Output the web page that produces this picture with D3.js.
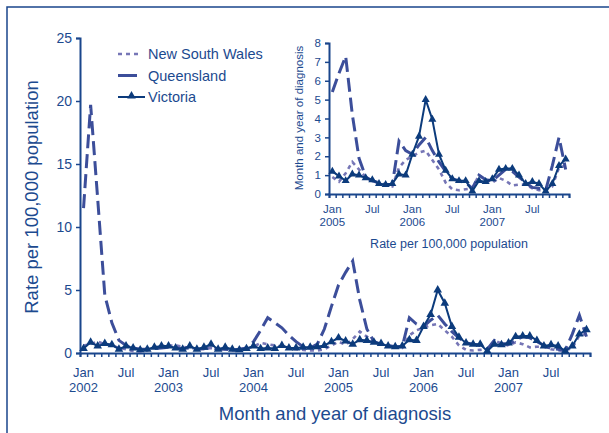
<!DOCTYPE html>
<meta charset="utf-8">
<script src="https://d3js.org/d3.v7.min.js"></script>
<style>
body { margin: 0; background: #fff; }
text { font-family: "Liberation Sans", Arial, sans-serif; fill: #1c4a8f; }
</style>
<div id="chart"></div>
<script>

// monthly notification rates, Jan 2002 - Dec 2007
var years = ["2002", "2003", "2004", "2005", "2006", "2007"];
var monthNames = ["Jan", "Feb", "Mar", "Apr", "May", "Jun", "Jul", "Aug", "Sep", "Oct", "Nov", "Dec"];
var seriesNames = ["New South Wales", "Queensland", "Victoria"];

var nsw = [
  0.6, 0.7, 0.9, 0.7, 0.6, 0.4, 0.3, 0.15, 0.1, 0.2, 0.5, 0.55,
  0.6, 0.6, 0.5, 0.4, 0.35, 0.3, 0.4, 0.3, 0.3, 0.2, 0.25, 0.35,
  0.5, 0.8, 0.7, 0.6, 0.5, 0.4, 0.3, 0.25, 0.2, 0.2, 0.3, 0.6,
  0.9, 0.65, 1.1, 1.7, 1.3, 0.9, 0.7, 0.55, 0.45, 0.4, 1.4, 1.8,
  2.0, 2.2, 2.3, 1.8, 1.3, 0.6, 0.25, 0.2, 0.25, 0.3, 1.0, 0.75,
  0.6, 0.85, 0.7, 0.45, 0.5, 0.5, 0.3, 0.2, 0.2, 0.4, 1.4, 1.5
];
var qld = [
  11.5, 19.7, 12.2, 4.6, 2.4, 1.0, 0.6, 0.4, 0.3, 0.3, 0.35, 0.4,
  0.45, 0.4, 0.35, 0.4, 0.3, 0.35, 0.4, 0.3, 0.3, 0.25, 0.3, 0.4,
  0.9, 1.8, 2.8, 2.4, 2.0, 1.4, 0.9, 0.5, 0.4, 0.7, 1.9, 3.7,
  5.4, 6.4, 7.3, 4.2, 1.9, 0.9, 0.7, 0.6, 0.5, 0.5, 2.8, 2.3,
  2.1, 2.6, 3.0, 2.3, 1.7, 1.2, 0.8, 0.7, 0.6, 0.3, 1.0, 0.75,
  0.7, 1.0, 1.3, 1.2, 0.9, 0.6, 0.35, 0.3, 0.2, 1.5, 3.0, 1.3
];
var vic = [
  0.35, 0.85, 0.55, 0.75, 0.65, 0.3, 0.55, 0.4, 0.25, 0.3, 0.45, 0.55,
  0.55, 0.4, 0.3, 0.55, 0.3, 0.45, 0.7, 0.3, 0.45, 0.3, 0.25, 0.35,
  0.55, 0.35, 0.4, 0.35, 0.6, 0.4, 0.4, 0.45, 0.45, 0.5, 0.6, 0.9,
  1.2, 0.95, 0.7, 1.05, 1.0, 0.85, 0.75, 0.55, 0.5, 0.55, 1.05, 1.0,
  2.1, 3.05, 5.0, 3.95, 2.1, 1.25, 0.8, 0.7, 0.7, 0.15, 0.7, 0.65,
  0.8, 1.3, 1.35, 1.35, 1.0, 0.55, 0.65, 0.55, 0.15, 0.55, 1.5, 1.85
];

var navy = "#0c3b7c", axisCol = "#1a468c";
var styles = [
  {color: "#7676b6", width: 2.6, dash: "4,4", marker: false},
  {color: "#3c4e9a", width: 3, dash: "14,6", marker: false},
  {color: navy, width: 2, dash: null, marker: true}
];
var allSeries = [nsw, qld, vic];

var svg = d3.select("#chart").append("svg")
  .attr("width", 609).attr("height", 433);

// frame
svg.append("rect")
  .attr("x", 7).attr("y", 7).attr("width", 640).attr("height", 460)
  .attr("fill", "none").attr("stroke", axisCol).attr("stroke-width", 1.5);

function drawPanel(g, opt) {
  var n = opt.series[0].length;
  var x = d3.scaleLinear().domain([0, n]).range([opt.x0, opt.x1]);
  var y = d3.scaleLinear().domain([0, opt.ymax]).range([opt.y0, opt.y1]);

  // y axis
  var ya = g.append("g").attr("transform", "translate(" + opt.x0 + ",0)")
    .call(d3.axisLeft(y).tickValues(opt.yticks).tickSize(4).tickPadding(4));
  ya.selectAll("text").style("font-size", opt.yfont + "px");

  // x axis, one tick per month boundary
  var xa = g.append("g").attr("transform", "translate(0," + opt.y0 + ")")
    .call(d3.axisBottom(x).tickValues(d3.range(n + 1)).tickSize(4).tickFormat(""));
  [ya, xa].forEach(function(a) {
    a.select(".domain").attr("stroke", axisCol).attr("stroke-width", 2);
    a.selectAll(".tick line").attr("stroke", axisCol).attr("stroke-width", 1.5);
  });

  // Jan / Jul labels
  for (var i = 0; i < n; i++) {
    var m = (opt.start + i) % 12;
    if (m != 0 && m != 6) continue;
    var t = g.append("text")
      .attr("x", x(i + 0.5)).attr("y", opt.y0 + opt.lab1)
      .attr("text-anchor", "middle").style("font-size", opt.xfont + "px");
    t.append("tspan").attr("x", x(i + 0.5)).text(monthNames[m]);
    if (m == 0) {
      t.append("tspan").attr("x", x(i + 0.5)).attr("dy", opt.lab2)
        .text(years[Math.floor((opt.start + i) / 12)]);
    }
  }

  var line = d3.line().x(function(d, i) { return x(i + 0.5); }).y(function(d) { return y(d); });

  opt.series.forEach(function(s, k) {
    var st = styles[k];
    g.append("path").datum(s)
      .attr("d", line).attr("fill", "none")
      .attr("stroke", st.color).attr("stroke-width", st.width)
      .attr("stroke-dasharray", st.dash);
    if (st.marker) {
      g.selectAll(null).data(s).enter().append("path")
        .attr("d", d3.symbol(d3.symbolTriangle).size(opt.msize))
        .attr("transform", function(d, i) { return "translate(" + x(i + 0.5) + "," + y(d) + ")"; })
        .attr("fill", st.color);
    }
  });

  // axis titles
  g.append("text")
    .attr("x", (opt.x0 + opt.x1) / 2).attr("y", opt.xtitleY)
    .attr("text-anchor", "middle").style("font-size", opt.tfont + "px")
    .text(opt.xtitle);
  g.append("text")
    .attr("transform", "translate(" + opt.ytitleX + "," + opt.ytitleC + ") rotate(-90)")
    .attr("text-anchor", "middle").style("font-size", opt.tfont2 + "px")
    .text(opt.ytitle);
}

// main chart
drawPanel(svg.append("g"), {
  series: allSeries, start: 0,
  x0: 80, x1: 590, y0: 353, y1: 38, ymax: 25, yticks: [0, 5, 10, 15, 20, 25],
  yfont: 14, xfont: 13, lab1: 24, lab2: 15, msize: 32,
  xtitle: "Month and year of diagnosis", xtitleY: 420, tfont: 18.5,
  ytitle: "Rate per 100,000 population", ytitleX: 38, ytitleC: 197, tfont2: 18.5
});

// inset, 2005 - 2007
drawPanel(svg.append("g"), {
  series: allSeries.map(function(s) { return s.slice(36); }), start: 36,
  x0: 329, x1: 569, y0: 194, y1: 43, ymax: 8, yticks: d3.range(0, 9),
  yfont: 11.5, xfont: 11.5, lab1: 19, lab2: 13, msize: 28,
  xtitle: "Rate per 100,000 population", xtitleY: 248, tfont: 12.5,
  ytitle: "Month and year of diagnosis", ytitleX: 303, ytitleC: 118, tfont2: 11.5
});

// legend
var lg = svg.append("g").attr("transform", "translate(118,54)");
seriesNames.forEach(function(name, k) {
  var st = styles[k], row = lg.append("g").attr("transform", "translate(0," + (k * 21.5) + ")");
  row.append("line").attr("x1", 0).attr("x2", k == 2 ? 27 : 20).attr("y1", 0).attr("y2", 0)
    .attr("stroke", st.color).attr("stroke-width", st.width)
    .attr("stroke-dasharray", k == 1 ? "19,5,2,4" : st.dash);
  if (st.marker) {
    row.append("path").attr("d", d3.symbol(d3.symbolTriangle).size(32))
      .attr("transform", "translate(13.5,-1)").attr("fill", st.color);
  }
  row.append("text").attr("x", 30).attr("y", 5).style("font-size", "14.5px").text(name);
});

</script>
